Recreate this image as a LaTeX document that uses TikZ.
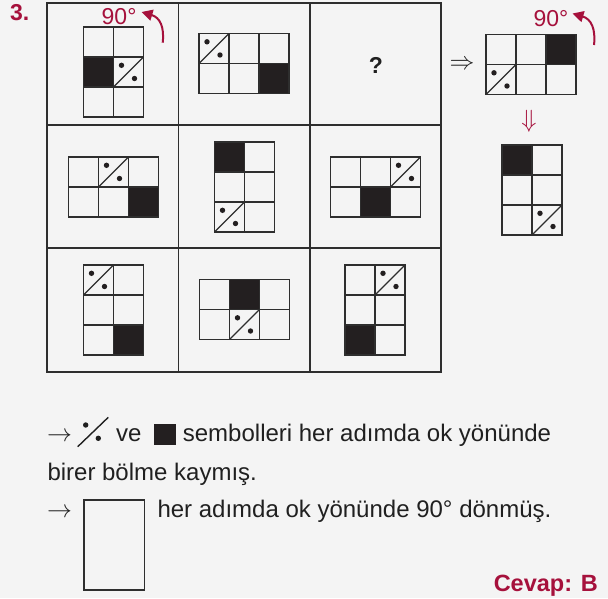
\documentclass[tikz,border=0pt]{standalone}
\usepackage{fontspec}
\setmainfont{Liberation Sans}
\usetikzlibrary{arrows.meta}
\definecolor{bg}{HTML}{F4F4F4}
\definecolor{redc}{HTML}{A6113C}
\definecolor{linec}{HTML}{2E2E2E}
\definecolor{blk}{HTML}{231F20}
\definecolor{txtc}{HTML}{202020}
\tikzset{
  figline/.style={line width=1.3pt, draw=linec},
  gridline/.style={line width=1.7pt, draw=linec},
  txt/.style={font=\fontsize{24}{28}\selectfont, text=txtc, inner sep=0pt, anchor=base west},
  redlbl/.style={font=\fontsize{23}{27}\selectfont, text=redc, inner sep=0pt, anchor=base west},
  rotarrow/.style={draw=redc, line width=2pt, -{Triangle[length=11pt,width=11pt]}},
  dotc/.style={fill=blk}
}
\newcommand{\puzfig}[8]{%
 \begin{scope}[shift={(#1,#2)}]
  \fill[blk] ({(#5-1)*30},{(#6-1)*30}) rectangle ++(30,30);
  \foreach \ci in {1,...,#3}{\foreach \ri in {1,...,#4}{
     \draw[figline] ({(\ci-1)*30},{(\ri-1)*30}) rectangle ++(30,30);}}
  \begin{scope}[shift={({(#7-1)*30},{(#8-1)*30})}]
   \draw[figline] (0,30) -- (30,0);
   \fill[dotc] (8,8.3) circle (2.7);
   \fill[dotc] (21,21.5) circle (2.7);
  \end{scope}
 \end{scope}}
\begin{document}
\begin{tikzpicture}[x=1pt,y=-1pt]
\useasboundingbox (0,0) rectangle (608,598);
\fill[bg] (0,0) rectangle (608,598);
% number
\node[redlbl, font=\bfseries\fontsize{23}{27}\selectfont] (num) at (10,20) {3.};
% main grid
\draw[gridline] (47,3) rectangle (441,372);
\draw[gridline] (178.5,3) -- (178.5,372);
\draw[gridline] (310,3) -- (310,372);
\draw[gridline] (47,125) -- (441,125);
\draw[gridline] (47,248) -- (441,248);
% figures
\puzfig{83.5}{27}{2}{3}{1}{2}{2}{2}
\puzfig{199}{33.5}{3}{2}{3}{2}{1}{1}
\puzfig{68.5}{157}{3}{2}{3}{2}{2}{1}
\puzfig{214.5}{142}{2}{3}{1}{1}{1}{3}
\puzfig{330.5}{157}{3}{2}{2}{2}{3}{1}
\puzfig{83.5}{265}{2}{3}{2}{3}{1}{1}
\puzfig{199.5}{279.5}{3}{2}{2}{1}{2}{2}
\puzfig{345}{265}{2}{3}{1}{3}{2}{1}
\puzfig{486}{34.5}{3}{2}{3}{1}{1}{2}
\puzfig{502}{145}{2}{3}{1}{1}{2}{3}
% question mark
\node[font=\bfseries\fontsize{23}{27}\selectfont, text=txtc, inner sep=0pt] (q) at (376,65) {?};
% implication arrows
\node[inner sep=0pt, font=\fontsize{23}{26}\selectfont, text=txtc] (impl) at (462,65) {$\Rightarrow$};
\node[inner sep=0pt, font=\fontsize{23}{26}\selectfont, text=redc] (down) at (529,121) {$\Downarrow$};
% 90 degree labels and rotation arrows
\node[redlbl] (deg1) at (101.5,24) {90°};
\coordinate (r1s) at (162.7,42.7);
\coordinate (r1e) at (141.5,12);
\draw[rotarrow] (r1s) .. controls (164.5,27) and (160,17.5) .. (r1e);
\node[redlbl] (deg2) at (533.3,26) {90°};
\coordinate (r2s) at (594,45);
\coordinate (r2e) at (572.5,13.5);
\draw[rotarrow] (r2s) .. controls (595.8,29) and (591.3,19) .. (r2e);
% explanation text
\node[txt, font=\fontsize{23}{27}\selectfont] (ar1) at (47,441.7) {$\rightarrow$};
\draw[line width=1.4pt, draw=txtc] (77.7,446.7) -- (108.3,417.3);
\fill[fill=txtc] (85.7,425) circle (2.7);
\fill[fill=txtc] (98.3,438.3) circle (2.7);
\node[txt] (ve) at (116,441.7) {ve};
\fill[blk] (154.3,424) rectangle (175.7,445);
\node[txt] (l1) at (182.7,441.7) {sembolleri her adımda ok yönünde};
\node[txt] (l2) at (47.3,480) {birer bölme kaymış.};
\node[txt, font=\fontsize{23}{27}\selectfont] (ar2) at (47,517.5) {$\rightarrow$};
\draw[line width=1.4pt, draw=linec] (84,500) rectangle (144.3,590);
\node[txt] (l3) at (157.3,517) {her adımda ok yönünde 90° dönmüş.};
\node[inner sep=0pt, anchor=base east, text=redc, font=\bfseries\fontsize{23.5}{27}\selectfont] (ans) at (598,591.5) {Cevap: B};
\end{tikzpicture}
\end{document}
